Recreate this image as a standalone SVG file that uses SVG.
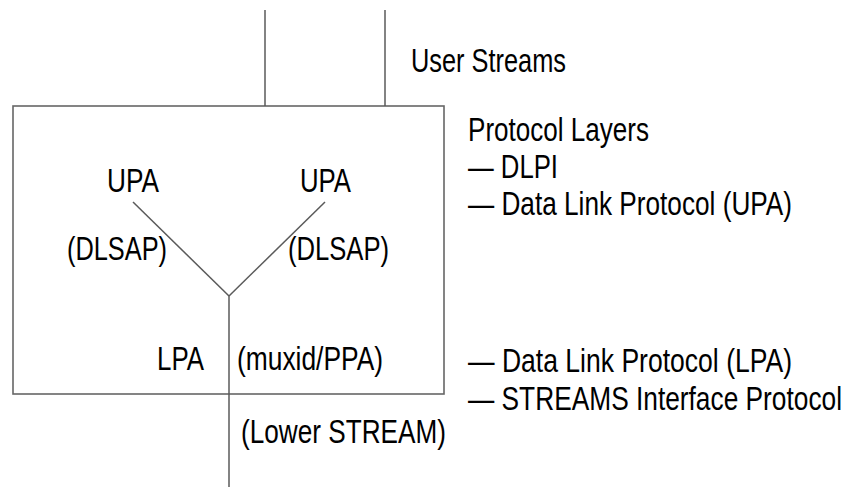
<svg xmlns="http://www.w3.org/2000/svg" width="846" height="487" viewBox="0 0 846 487">
<style>
text{font-family:"Liberation Sans Narrow","Liberation Sans",Arial,sans-serif;font-size:32.5px;fill:#000;}
.ln{stroke:#5a5a5a;stroke-width:1.5;fill:none;}
.bx{stroke:#666;stroke-width:1.6;fill:#fff;}
</style>
<rect width="846" height="487" fill="#fff"/>
<g id="box"><rect class="bx" x="13" y="106" width="431" height="288"/></g>
<g id="connectors">
<line class="ln" x1="265" y1="10" x2="265" y2="106"/>
<line class="ln" x1="385" y1="10" x2="385" y2="106"/>
<line class="ln" x1="133" y1="202" x2="229" y2="296"/>
<line class="ln" x1="325" y1="202" x2="229" y2="296"/>
<line class="ln" x1="229" y1="296" x2="229" y2="487"/>
</g>
<g id="upa-left"><text x="107" y="192" textLength="52" lengthAdjust="spacingAndGlyphs">UPA</text></g>
<g id="upa-right"><text x="300" y="192" textLength="51" lengthAdjust="spacingAndGlyphs">UPA</text></g>
<g id="dlsap-left"><text x="67" y="260" textLength="100" lengthAdjust="spacingAndGlyphs">(DLSAP)</text></g>
<g id="dlsap-right"><text x="288" y="260" textLength="101" lengthAdjust="spacingAndGlyphs">(DLSAP)</text></g>
<g id="lpa"><text x="157" y="370" textLength="47" lengthAdjust="spacingAndGlyphs">LPA</text></g>
<g id="muxid"><text x="237" y="370" textLength="146" lengthAdjust="spacingAndGlyphs">(muxid/PPA)</text></g>
<g id="lower"><text x="241" y="443" textLength="205" lengthAdjust="spacingAndGlyphs">(Lower STREAM)</text></g>
<g id="user-streams"><text x="411" y="72" textLength="155" lengthAdjust="spacingAndGlyphs">User Streams</text></g>
<g id="legend">
<text x="468" y="141" textLength="181" lengthAdjust="spacingAndGlyphs">Protocol Layers</text>
<text x="468" y="178" textLength="90" lengthAdjust="spacingAndGlyphs">— DLPI</text>
<text x="468" y="215" textLength="324" lengthAdjust="spacingAndGlyphs">— Data Link Protocol (UPA)</text>
<text x="468" y="372" textLength="324" lengthAdjust="spacingAndGlyphs">— Data Link Protocol (LPA)</text>
<text x="468" y="410" textLength="374" lengthAdjust="spacingAndGlyphs">— STREAMS Interface Protocol</text>
</g>
</svg>
